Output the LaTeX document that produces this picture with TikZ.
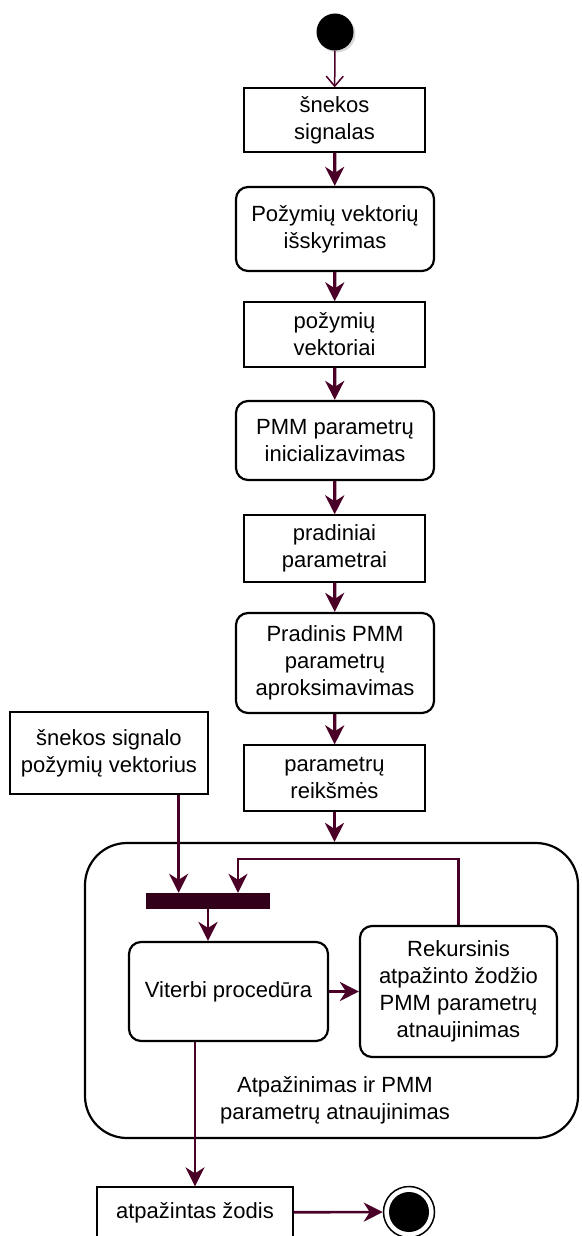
\documentclass[tikz,border=0pt]{standalone}
\usepackage{fontspec}
\setmainfont{Liberation Sans}
\usepackage{tikz}
\usetikzlibrary{arrows.meta, positioning, calc, shadows}
\definecolor{wine}{RGB}{74,0,38}
\definecolor{darkwine}{RGB}{51,0,25}

\begin{document}
\begin{tikzpicture}[x=1pt, y=-1pt, font=\fontsize{22}{27}\selectfont]
        \tikzstyle{datum}=[draw, line width=1.3pt, minimum width=181pt, align=center, inner sep=0pt]
        \tikzstyle{action}=[draw, line width=2.2pt, rounded corners=12pt, minimum width=198pt, align=center, inner sep=0pt]
        \tikzstyle{flow}=[wine, line width=3.3pt, -{Stealth[length=19pt,width=19pt,inset=6pt]}]
        \tikzstyle{thinflow}=[wine, line width=1.5pt, -{Straight Barb[length=10pt,width=17pt]}]
        \useasboundingbox (0,0) rectangle (581,1236);

        % Start
        \node (start)[circle, fill=black, minimum size=37pt, inner sep=0pt,
            drop shadow={shadow xshift=2pt, shadow yshift=-2pt, fill=gray!60}] at (335,32) {};

        % Main column
        \node (sig)[datum, minimum height=64pt] at (334.5,120) {šnekos\\signalas};
        \node (extract)[action, minimum height=84pt] at (335,229) {Požymių vektorių\\išskyrimas};
        \node (feat)[datum, minimum height=65pt] at (334.5,334.5) {požymių\\vektoriai};
        \node (init)[action, minimum height=79pt] at (335,440.5) {PMM parametrų\\inicializavimas};
        \node (initpar)[datum, minimum height=67pt] at (334.5,548.5) {pradiniai\\parametrai};
        \node (approx)[action, minimum height=100pt] at (335,663) {Pradinis PMM\\parametrų\\aproksimavimas};
        \node (values)[datum, minimum height=66pt] at (334.5,778) {parametrų\\reikšmės};

        % Input on the left
        \node (input)[datum, minimum width=198pt, minimum height=82pt] at (109,753) {šnekos signalo\\požymių vektorius};

        % Recognition block
        \node (block)[draw, line width=2.2pt, rounded corners=42pt, minimum width=493pt, minimum height=295pt] at (331.5,990.5) {};
        \node (blocklabel)[align=center] at (335,1100) {Atpažinimas ir PMM\\parametrų atnaujinimas};
        \node (bar)[fill=darkwine, minimum width=124pt, minimum height=16pt, inner sep=0pt] at (208,901) {};
        \node (viterbi)[action, minimum width=199pt, minimum height=99pt] at (228.5,991.5) {Viterbi procedūra};
        \node (update)[action, minimum width=197pt, minimum height=131pt] at (458.5,991.5) {Rekursinis\\atpažinto žodžio\\PMM parametrų\\atnaujinimas};

        % Output and end
        \node (word)[datum, minimum width=196pt, minimum height=51pt] at (195,1212.5) {atpažintas žodis};
        \node (end)[circle, draw, line width=1.5pt, fill=white, minimum size=51pt, inner sep=0pt] at (409,1212) {};
        \node (endcore)[circle, fill=black, minimum size=40pt, inner sep=0pt] at (end.center) {};

        % Arrows down the column
        \draw[thinflow] (start) -- (sig);
        \draw[flow] (sig) -- (extract);
        \draw[flow] (extract) -- (feat);
        \draw[flow] (feat) -- (init);
        \draw[flow] (init) -- (initpar);
        \draw[flow] (initpar) -- (approx);
        \draw[flow] (approx) -- (values);
        \draw[flow] (values) -- (values |- block.north);

        % Inside the block
        \draw[flow, line width=2.6pt] ([xshift=-30pt]input.south east) -- ([xshift=-30pt]input.south east |- bar.north);
        \draw[flow, line width=2.2pt] (update.north) -- ++(0,-66) -| ([xshift=30pt]bar.north);
        \draw[flow, line width=2.6pt] (bar.south) -- (bar.south |- viterbi.north);
        \draw[flow] (viterbi) -- (update);
        \draw[flow, line width=2.6pt] (word.north |- viterbi.south) -- (word.north);
        \draw[flow, line width=2.6pt] (word) -- (end);
    \end{tikzpicture}
\end{document}
